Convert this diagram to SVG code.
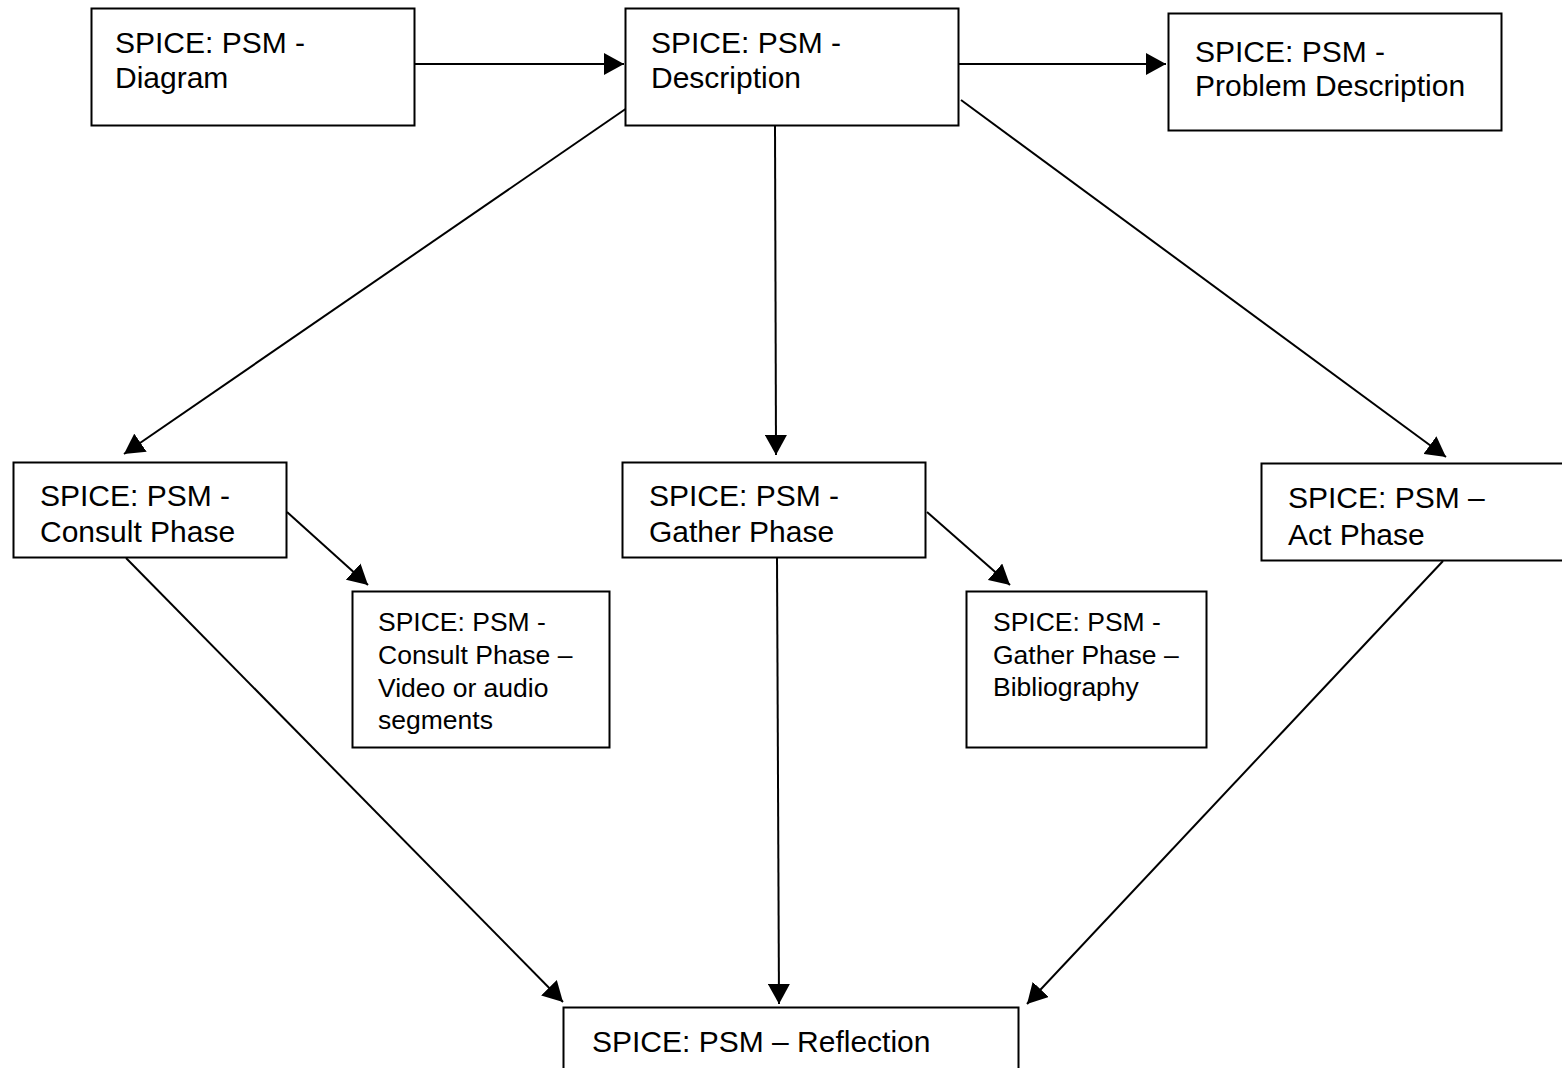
<svg xmlns="http://www.w3.org/2000/svg" width="1562" height="1068" viewBox="0 0 1562 1068">
  <style>
    .box { fill: #ffffff; stroke: #000000; stroke-width: 2; }
    .lbl { font-family: "Liberation Sans", Arial, sans-serif; font-size: 30px; fill: #000000; }
    .sm { font-family: "Liberation Sans", Arial, sans-serif; font-size: 26.5px; fill: #000000; }
    .edge { stroke: #000000; stroke-width: 2; fill: none; marker-end: url(#head); }
  </style>
  <defs>
    <marker id="head" markerUnits="userSpaceOnUse" markerWidth="20" markerHeight="22" refX="20" refY="11" orient="auto" viewBox="0 0 20 22">
      <path d="M0,0 L20,11 L0,22 Z" fill="#000000"/>
    </marker>
  </defs>
  <rect width="1562" height="1068" fill="#ffffff"/>

  <g id="connectors">
    <line class="edge" x1="415" y1="64" x2="624" y2="64"/>
    <line class="edge" x1="959" y1="64" x2="1166" y2="64"/>
    <line class="edge" x1="627" y1="108" x2="124" y2="454"/>
    <line class="edge" x1="775" y1="126" x2="776" y2="455"/>
    <line class="edge" x1="961" y1="100" x2="1446" y2="457"/>
    <line class="edge" x1="287" y1="512" x2="368" y2="585"/>
    <line class="edge" x1="927" y1="512" x2="1010" y2="585"/>
    <line class="edge" x1="126" y1="558" x2="563" y2="1002"/>
    <line class="edge" x1="777" y1="558" x2="779" y2="1004"/>
    <line class="edge" x1="1443" y1="561" x2="1027" y2="1004"/>
  </g>

  <g id="node-diagram">
    <rect class="box" x="91.5" y="8.5" width="323" height="117"/>
    <text class="lbl" x="115" y="53">SPICE: PSM -</text>
    <text class="lbl" x="115" y="88">Diagram</text>
  </g>

  <g id="node-description">
    <rect class="box" x="625.5" y="8.5" width="333" height="117"/>
    <text class="lbl" x="651" y="53">SPICE: PSM -</text>
    <text class="lbl" x="651" y="88">Description</text>
  </g>

  <g id="node-problem">
    <rect class="box" x="1168.5" y="13.5" width="333" height="117"/>
    <text class="lbl" x="1195" y="62">SPICE: PSM -</text>
    <text class="lbl" x="1195" y="96">Problem Description</text>
  </g>

  <g id="node-consult">
    <rect class="box" x="13.5" y="462.5" width="273" height="95"/>
    <text class="lbl" x="40" y="506">SPICE: PSM -</text>
    <text class="lbl" x="40" y="542">Consult Phase</text>
  </g>

  <g id="node-gather">
    <rect class="box" x="622.5" y="462.5" width="303" height="95"/>
    <text class="lbl" x="649" y="506">SPICE: PSM -</text>
    <text class="lbl" x="649" y="542">Gather Phase</text>
  </g>

  <g id="node-act">
    <rect class="box" x="1261.5" y="463.5" width="310" height="97"/>
    <text class="lbl" x="1288" y="508">SPICE: PSM –</text>
    <text class="lbl" x="1288" y="545">Act Phase</text>
  </g>

  <g id="node-consult-media">
    <rect class="box" x="352.5" y="591.5" width="257" height="156"/>
    <text class="sm" x="378" y="631">SPICE: PSM -</text>
    <text class="sm" x="378" y="664">Consult Phase –</text>
    <text class="sm" x="378" y="697">Video or audio</text>
    <text class="sm" x="378" y="729">segments</text>
  </g>

  <g id="node-gather-biblio">
    <rect class="box" x="966.5" y="591.5" width="240" height="156"/>
    <text class="sm" x="993" y="631">SPICE: PSM -</text>
    <text class="sm" x="993" y="664">Gather Phase –</text>
    <text class="sm" x="993" y="696">Bibliography</text>
  </g>

  <g id="node-reflection">
    <rect class="box" x="563.5" y="1007.5" width="455" height="80"/>
    <text class="lbl" x="592" y="1052">SPICE: PSM – Reflection</text>
  </g>
</svg>
